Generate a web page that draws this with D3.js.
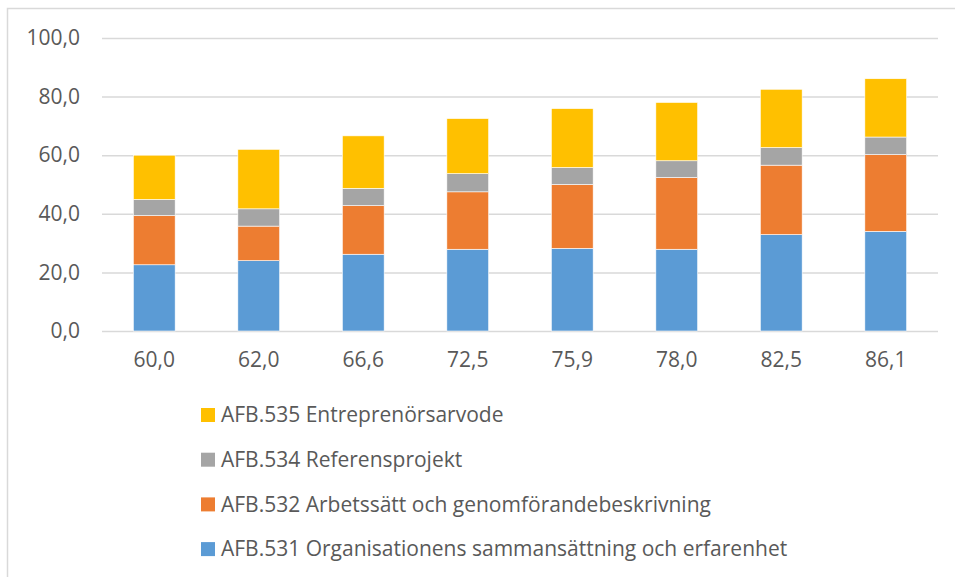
<html>

<head>
  <script src="https://d3js.org/d3.v7.min.js"></script>

  <style>
    body {
      margin: 0;
      background: #fff;
    }

    svg text {
      font-family: "Open Sans", sans-serif;
      fill: #595959;
    }

    .gridlines line {
      stroke: #d9d9d9;
      stroke-width: 1.5px;
    }

    .gridlines .domain {
      stroke: none;
    }
  </style>
</head>

<body>
  <svg id="barchart" height="577" width="955"></svg>

  <script>
    // totals shown as x-axis categories
    const categories = ["60,0", "62,0", "66,6", "72,5", "75,9", "78,0", "82,5", "86,1"];

    const seriesKeys = ["AFB.531", "AFB.532", "AFB.534", "AFB.535"];
    const seriesLabels = [
      "AFB.531 Organisationens sammansättning och erfarenhet",
      "AFB.532 Arbetssätt och genomförandebeskrivning",
      "AFB.534 Referensprojekt",
      "AFB.535 Entreprenörsarvode"
    ];

    const afb531 = [22.6, 24.0, 26.2, 27.9, 28.2, 27.9, 32.9, 34.0];
    const afb532 = [16.8, 11.8, 16.6, 19.6, 21.8, 24.5, 23.7, 26.2];
    const afb534 = [5.5, 5.9, 5.9, 6.2, 5.8, 5.7, 6.0, 6.0];
    const afb535 = [15.1, 20.3, 17.9, 18.8, 20.1, 19.9, 19.9, 19.9];

    const yTicks = [0, 20, 40, 60, 80, 100];

    const colors = ["#5b9bd5", "#ed7d31", "#a5a5a5", "#ffc000"];

    const svg = d3.select("svg#barchart");
    const margin = { top: 38, left: 102, right: 17, bottom: 246 };
    const width = +svg.attr("width");
    const height = +svg.attr("height");
    const chartWidth = width - margin.left - margin.right;
    const chartHeight = height - margin.top - margin.bottom;

    // outer chart border
    svg.append("rect")
      .attr("x", 7.5)
      .attr("y", 8.5)
      .attr("width", width)
      .attr("height", height)
      .attr("fill", "none")
      .attr("stroke", "#d9d9d9")
      .attr("stroke-width", 1.5);

    const data = categories.map((c, i) => ({
      cat: c,
      "AFB.531": afb531[i],
      "AFB.532": afb532[i],
      "AFB.534": afb534[i],
      "AFB.535": afb535[i]
    }));

    const stackedData = d3.stack().keys(seriesKeys)(data);

    const xScale = d3.scaleBand()
      .domain(categories)
      .range([0, chartWidth])
      .paddingInner(0.6)
      .paddingOuter(0.3);

    const yScale = d3.scaleLinear()
      .domain([0, 100])
      .range([chartHeight, 0]);

    const color = d3.scaleOrdinal().domain(seriesKeys).range(colors);

    const chartArea = svg.append("g")
      .attr("transform", `translate(${margin.left},${margin.top})`);

    const grid = d3.axisLeft(yScale)
      .tickValues(yTicks)
      .tickSize(-chartWidth)
      .tickFormat("");
    chartArea.append("g")
      .attr("class", "gridlines")
      .call(grid);

    const leftAxis = d3.axisLeft(yScale)
      .tickValues(yTicks)
      .tickSize(0)
      .tickPadding(22)
      .tickFormat(d => d3.format(".1f")(d).replace(".", ","));
    chartArea.append("g")
      .call(leftAxis)
      .call(g => g.select(".domain").remove())
      .selectAll("text")
      .style("font-size", "21px")
      .attr("fill", "#595959");

    const bottomAxis = d3.axisBottom(xScale).tickSize(0).tickPadding(21);
    chartArea.append("g")
      .attr("transform", `translate(0,${chartHeight})`)
      .call(bottomAxis)
      .call(g => g.select(".domain").remove())
      .selectAll("text")
      .style("font-size", "21px")
      .attr("fill", "#595959");

    chartArea.selectAll(".stack")
      .data(stackedData)
      .enter().append("g")
      .attr("class", "stack")
      .attr("fill", d => color(d.key))
      .selectAll("rect")
      .data(d => d)
      .enter().append("rect")
      .attr("x", d => xScale(d.data.cat))
      .attr("y", d => yScale(d[1]))
      .attr("height", d => yScale(d[0]) - yScale(d[1]))
      .attr("width", xScale.bandwidth())
      .attr("stroke", "#fff")
      .attr("stroke-width", 0.6);

    // legend, top to bottom in reverse series order
    const legendData = seriesKeys.map((k, i) => ({ key: k, label: seriesLabels[i] })).reverse();

    const legend = svg.append("g")
      .attr("transform", "translate(201,415)");

    const items = legend.selectAll(".legend-item")
      .data(legendData)
      .enter().append("g")
      .attr("class", "legend-item")
      .attr("transform", (d, i) => `translate(0,${i * 44.7})`);

    items.append("rect")
      .attr("x", 0)
      .attr("y", -7)
      .attr("width", 14)
      .attr("height", 14)
      .attr("fill", d => color(d.key));

    items.append("text")
      .attr("x", 20)
      .attr("dy", "0.35em")
      .style("font-size", "21px")
      .text(d => d.label);
  </script>

</body>

</html>
